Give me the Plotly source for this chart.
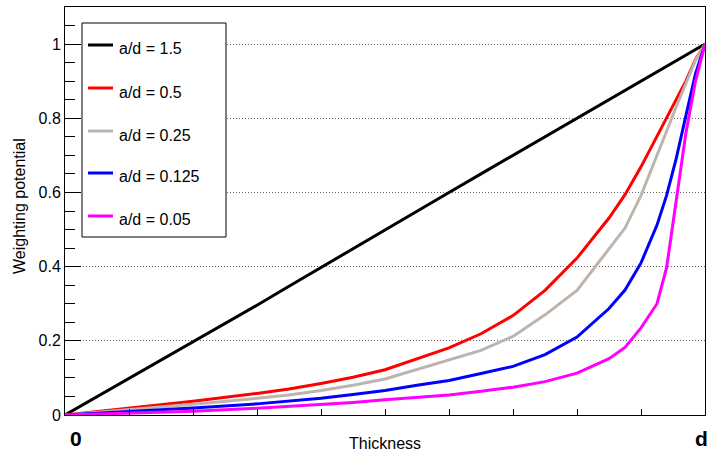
import plotly.graph_objects as go

# Thickness fraction (0 .. d)
thickness = [0, .1, .2, .3, .35, .4, .45, .5, .55, .6, .65, .7, .75, .8, .85, .875, .9, .925, .94, .955, .97, .985, 1]

pot_1p5 = [0, .098, .196, .296, .347, .398, .449, .5, .55, .6, .65, .7, .75, .8, .85, .875, .9, .925, .94, .955, .97, .985, 1]
pot_0p5 = [0, .018, .037, .058, .07, .085, .102, .122, .152, .181, .219, .268, .336, .423, .531, .594, .669, .75, .801, .851, .90, .958, 1]
pot_0p25 = [0, .014, .029, .045, .054, .066, .08, .097, .122, .148, .174, .212, .27, .336, .446, .504, .592, .698, .765, .831, .896, .956, 1]
pot_0p125 = [0, .009, .019, .03, .037, .045, .055, .066, .08, .093, .112, .131, .163, .21, .287, .337, .41, .512, .592, .691, .806, .919, 1]
pot_0p05 = [0, .005, .01, .018, .023, .028, .034, .041, .047, .054, .064, .075, .09, .113, .152, .182, .235, .30, .397, .578, .758, .899, 1]

labels = ["a/d = 1.5", "a/d = 0.5", "a/d = 0.25", "a/d = 0.125", "a/d = 0.05"]
colors = ["#000000", "#FF0000", "#BDB5AD", "#0000FF", "#FF00FF"]
series = [pot_1p5, pot_0p5, pot_0p25, pot_0p125, pot_0p05]

W, H = 707, 454
L, R, T, B = 65, 2, 7, 39
PW, PH = W - L - R, H - T - B

def px(x):
    return (x - L) / PW

def py(y):
    return (H - B - y) / PH

fig = go.Figure()
for lab, col, ys in zip(labels, colors, series):
    fig.add_trace(go.Scatter(x=thickness, y=ys, mode="lines", name=lab,
                             line=dict(color=col, width=3), showlegend=False))

font = "Liberation Sans, Arial, sans-serif"

shapes = [dict(type="rect", xref="paper", yref="paper", x0=px(82), x1=px(226),
               y0=py(237), y1=py(23), line=dict(color="black", width=1),
               fillcolor="white", layer="above")]
annotations = []
rows = [45, 88, 131, 173, 216]
for lab, col, r in zip(labels, colors, rows):
    shapes.append(dict(type="line", xref="paper", yref="paper", x0=px(88), x1=px(113),
                       y0=py(r), y1=py(r), line=dict(color=col, width=3), layer="above"))
    annotations.append(dict(xref="paper", yref="paper", x=px(117), y=py(r + 4),
                            text=lab, showarrow=False, xanchor="left", yanchor="middle",
                            font=dict(family=font, size=16, color="black")))

annotations += [
    dict(xref="paper", yref="paper", x=px(76), y=py(438), text="<b>0</b>", showarrow=False,
         xanchor="center", yanchor="middle", font=dict(family=font, size=21, color="black")),
    dict(xref="paper", yref="paper", x=px(701), y=py(438), text="<b>d</b>", showarrow=False,
         xanchor="center", yanchor="middle", font=dict(family=font, size=21, color="black")),
    dict(xref="paper", yref="paper", x=px(385), y=py(443), text="Thickness", showarrow=False,
         xanchor="center", yanchor="middle", font=dict(family=font, size=16, color="black")),
    dict(xref="paper", yref="paper", x=px(19), y=py(206), text="Weighting potential",
         showarrow=False, textangle=-90, xanchor="center", yanchor="middle",
         font=dict(family=font, size=16, color="black")),
]

fig.update_layout(
    width=W, height=H,
    margin=dict(l=L, r=R, t=T, b=B, pad=0),
    paper_bgcolor="white", plot_bgcolor="white",
    shapes=shapes, annotations=annotations,
    font=dict(family=font, size=14, color="black"),
    xaxis=dict(range=[0, 1], showgrid=False, zeroline=False, showticklabels=False,
               ticks="inside", tick0=0, dtick=0.1, ticklen=6, tickcolor="black",
               showline=True, mirror=True, linecolor="black", linewidth=1),
    yaxis=dict(range=[0, 1.1], showgrid=True, gridcolor="#666666", griddash="1px,2px",
               gridwidth=1, zeroline=False, ticks="inside",
               ticklen=16, tickcolor="black", tickvals=[0, 0.2, 0.4, 0.6, 0.8, 1],
               ticktext=["0", "0.2", "0.4", "0.6", "0.8", "1"],
               tickfont=dict(family=font, size=16),
               minor=dict(dtick=0.05, tick0=0, ticks="inside", ticklen=10,
                          tickcolor="black", showgrid=False),
               showline=True, mirror=True, linecolor="black", linewidth=1),
)

fig.write_html("out.html")
